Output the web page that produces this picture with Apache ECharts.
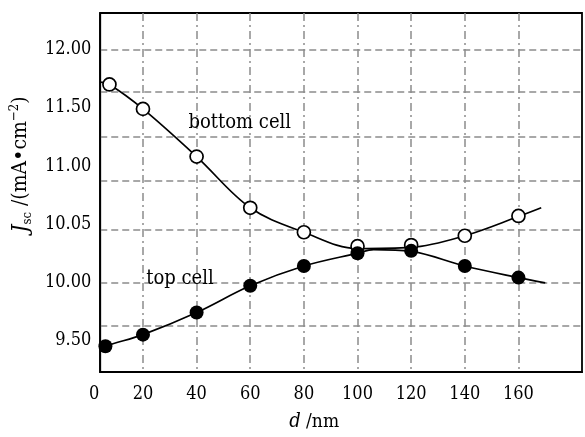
<!DOCTYPE html>
<html>
<head>
<meta charset="utf-8">
<script src="https://cdn.jsdelivr.net/npm/echarts@6/dist/echarts.min.js"></script>
<style>html,body{margin:0;padding:0;background:#fff}#c{width:585px;height:437px}</style>
</head>
<body>
<div id="c"></div>
<script>
// ---- data ----
const bottomX = [7.5, 20, 40, 60, 80, 100, 120, 140, 160];
const bottomY = [11.70, 11.49, 11.08, 10.64, 10.43, 10.31, 10.32, 10.40, 10.57];
const topX = [6, 20, 40, 60, 80, 100, 120, 140, 160];
const topY = [9.45, 9.55, 9.74, 9.97, 10.14, 10.25, 10.27, 10.14, 10.04];
// fitted curves (drawn through / near the points, extended at both ends)
const bottomCurveX = [4.07, 7.5, 20, 40, 60, 80, 100, 120, 140, 160, 168.5];
const bottomCurveY = [11.72, 11.70, 11.49, 11.08, 10.64, 10.43, 10.29, 10.30, 10.40, 10.565, 10.64];
const topCurveX = [4.07, 6, 20, 40, 60, 80, 100, 106, 120, 140, 160, 170];
const topCurveY = [9.42, 9.45, 9.55, 9.74, 9.97, 10.14, 10.25, 10.28, 10.265, 10.14, 10.04, 9.995];
// axis ticks / labels
const xLabelValues = [20, 40, 60, 80, 100, 120, 140, 160];
const xTickLabels = ['20', '40', '60', '80', '100', '120', '140', '160'];
const xGridValues = [20, 40, 60, 80, 100, 120, 140, 160];
const yLabelValues = [12, 11.5, 11, 10.5, 10, 9.5];
const yTickLabels = ['12.00', '11.50', '11.00', '10.05', '10.00', '9.50'];
const yGridValues = [12.0, 11.64, 11.25, 10.87, 10.45, 10.0, 9.63];
const X_MIN = 4.07, X_MAX = 183.7;
const Y_MIN = 9.229, Y_MAX = 12.314;
const annotations = [
  {name: 'bottom cell', coord: [56.1, 11.373]},
  {name: 'top cell', coord: [33.8, 10.034]}
];

const FONT = "'DejaVu Serif Condensed', 'DejaVu Serif', serif";
const zip = (xs, ys) => xs.map((x, i) => [x, ys[i]]);

const chart = echarts.init(document.getElementById('c'), null, {renderer: 'canvas'});
chart.setOption({
  backgroundColor: '#fff',
  animation: false,
  grid: {left: 92, top: 13, width: 490, height: 364, show: true, borderColor: '#000', borderWidth: 1.8, backgroundColor: 'transparent'},
  xAxis: {
    type: 'value', min: X_MIN, max: X_MAX,
    axisLine: {show: true, onZero: false, lineStyle: {color: '#000', width: 1.8}},
    axisTick: {show: false, customValues: xGridValues},
    axisLabel: {
      customValues: [X_MIN].concat(xLabelValues),
      formatter: v => v === X_MIN ? '{z|0}' : xTickLabels[xLabelValues.indexOf(v)],
      fontFamily: FONT, fontSize: 18, color: '#000', margin: 13,
      rich: {z: {fontFamily: FONT, fontSize: 18, color: '#000', padding: [0, 12, 0, 0]}}
    },
    splitLine: {show: true, lineStyle: {color: '#8c8c8c', width: 1.5, type: [8, 4, 2, 4]}},
    name: '{i|d}{n| /nm}', nameLocation: 'middle', nameGap: 40,
    nameTextStyle: {
      color: '#000', padding: [0, 54, 0, 0],
      rich: {i: {fontFamily: FONT, fontStyle: 'italic', fontSize: 20, color: '#000'},
             n: {fontFamily: FONT, fontSize: 19, color: '#000'}}
    }
  },
  yAxis: {
    type: 'value', min: Y_MIN, max: Y_MAX,
    axisLine: {show: true, lineStyle: {color: '#000', width: 1.8}},
    axisTick: {show: false, customValues: yGridValues},
    axisLabel: {
      customValues: yLabelValues,
      formatter: v => yTickLabels[yLabelValues.indexOf(v)],
      fontFamily: FONT, fontSize: 18, color: '#000', margin: 9
    },
    splitLine: {show: true, lineStyle: {color: '#8c8c8c', width: 1.5, type: [7, 4]}},
    name: '{i|J}{sub|sc}{n| /(mA•cm}{sup|−2}{n|)}', nameLocation: 'middle', nameGap: 62, nameRotate: 90,
    nameTextStyle: {
      color: '#000', padding: [0, 0, 0, 56],
      rich: {
        i: {fontFamily: FONT, fontStyle: 'italic', fontSize: 22, color: '#000', lineHeight: 26},
        sub: {fontFamily: FONT, fontSize: 13, color: '#000', verticalAlign: 'bottom', lineHeight: 26},
        n: {fontFamily: FONT, fontSize: 21, color: '#000', lineHeight: 26},
        sup: {fontFamily: FONT, fontSize: 13, color: '#000', verticalAlign: 'top', lineHeight: 26}
      }
    }
  },
  series: [
    {
      type: 'line', name: 'bottom curve', data: zip(bottomCurveX, bottomCurveY), smooth: 0.35,
      showSymbol: false, lineStyle: {color: '#000', width: 1.7}, z: 3,
      markPoint: {
        symbol: 'circle', symbolSize: 0,
        label: {show: true, position: 'inside', formatter: '{b}', fontFamily: FONT, fontSize: 20, color: '#000'},
        data: annotations.map(a => ({name: a.name, coord: a.coord}))
      }
    },
    {
      type: 'line', name: 'top curve', data: zip(topCurveX, topCurveY), smooth: 0.35,
      showSymbol: false, lineStyle: {color: '#000', width: 1.7}, z: 3
    },
    {
      type: 'scatter', name: 'bottom cell', data: zip(bottomX, bottomY), symbol: 'circle', symbolSize: 13,
      itemStyle: {color: '#fff', borderColor: '#000', borderWidth: 1.7, opacity: 1}, z: 4
    },
    {
      type: 'scatter', name: 'top cell', data: zip(topX, topY), symbol: 'circle', symbolSize: 14,
      itemStyle: {color: '#000', opacity: 1}, z: 5
    }
  ]
});
</script>
</body>
</html>
